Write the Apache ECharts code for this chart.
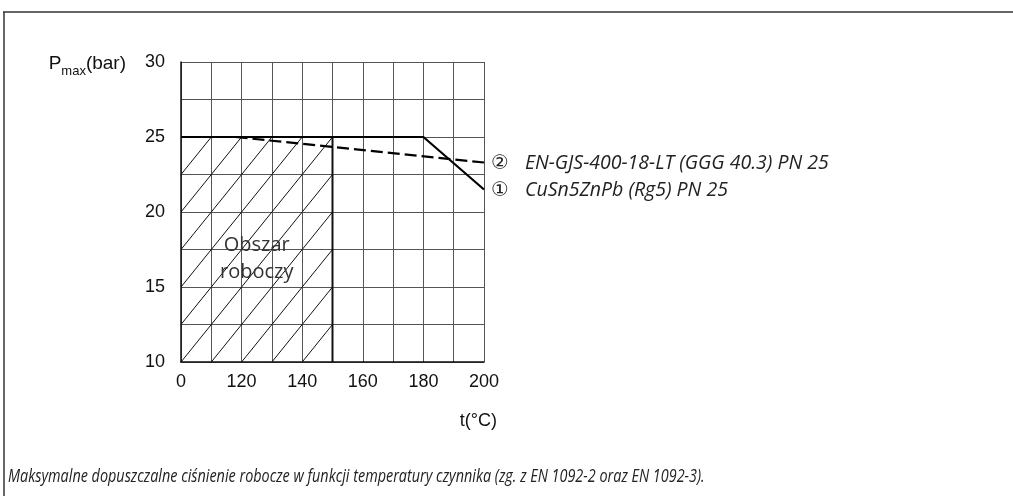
<!DOCTYPE html>
<html>
<head>
<meta charset="utf-8">
<script src="https://cdn.jsdelivr.net/npm/echarts@6/dist/echarts.min.js"></script>
<style>
html, body { margin: 0; padding: 0; background: #fff; }
#chart { width: 1013px; height: 496px; }
</style>
</head>
<body>
<div id="chart"></div>
<script>
// dane wykresu
var xLabelValues = [100, 120, 140, 160, 180, 200];
var xLabelTexts = ['0', '120', '140', '160', '180', '200'];
var yLabelValues = [10, 15, 20, 25, 30];
var rg5Data = [[100, 25], [180, 25], [200, 21.5]];       // ① CuSn5ZnPb
var gggData = [[118, 25], [200, 23.3]];                   // ② EN-GJS-400-18-LT
var workArea = [[100, 150, 10, 25]];                      // obszar roboczy: xmin, xmax, ymin, ymax
var workAreaLabel = 'Obszar\nroboczy';
var rg5Name = 'CuSn5ZnPb (Rg5) PN 25';
var gggName = 'EN-GJS-400-18-LT (GGG 40.3) PN 25';
var caption = 'Maksymalne dopuszczalne ciśnienie robocze w funkcji temperatury czynnika (zg. z EN 1092-2 oraz EN 1092-3).';

var chart = echarts.init(document.getElementById('chart'), null, { renderer: 'canvas' });

var gridLineColor = '#555';
var axisFont = 'Liberation Sans, Arial, sans-serif';

function endLabel(mark, name) {
	return {
		show : true,
		distance : 7,
		offset : [ 0, 1 ],
		formatter : '{c|' + mark + '}{t|' + name + '}',
		rich : {
			c : { fontSize : 20, fontFamily : 'DejaVu Sans', color : '#222' },
			t : { fontSize : 19.5, fontFamily : '"Open Sans", sans-serif', fontStyle : 'italic', color : '#222', padding : [ 0, 0, 0, 16 ] }
		}
	};
}

chart.setOption({
	backgroundColor : '#fff',
	animation : false,
	grid : {
		left : 181,
		right : 1013 - 484,
		top : 62,
		bottom : 496 - 362,
		containLabel : false
	},
	xAxis : {
		type : 'value',
		min : 100,
		max : 200,
		interval : 10,
		name : 't(°C)',
		nameLocation : 'end',
		nameGap : 13,
		nameTextStyle : {
			color : '#111',
			fontSize : 18,
			fontFamily : axisFont,
			align : 'right',
			verticalAlign : 'top',
			padding : [ 50, 0, 0, 0 ]
		},
		axisLine : { lineStyle : { color : '#111', width : 1.5 } },
		axisTick : { show : false },
		splitLine : { show : true, lineStyle : { color : gridLineColor, width : 1 } },
		axisLabel : {
			color : '#111',
			fontSize : 18,
			fontFamily : axisFont,
			margin : 11,
			formatter : function(v) {
				var i = xLabelValues.indexOf(v);
				return i < 0 ? '' : xLabelTexts[i];
			}
		}
	},
	yAxis : {
		type : 'value',
		min : 10,
		max : 30,
		interval : 2.5,
		name : '{p|P}{s|max}{p|(bar)}',
		nameLocation : 'end',
		nameGap : -13,
		nameTextStyle : {
			align : 'right',
			padding : [ 0, 55, 0, 0 ],
			rich : {
				p : { fontSize : 19, fontFamily : axisFont, color : '#111', lineHeight : 22 },
				s : { fontSize : 13, fontFamily : axisFont, color : '#111', lineHeight : 13, verticalAlign : 'bottom', padding : [ 0, 0, -3, 0 ] }
			}
		},
		axisLine : { show : true, lineStyle : { color : '#111', width : 1.5 } },
		axisTick : { show : false },
		splitLine : { show : true, lineStyle : { color : gridLineColor, width : 1 } },
		axisLabel : {
			color : '#111',
			fontSize : 18,
			fontFamily : axisFont,
			margin : 16,
			formatter : function(v) {
				return yLabelValues.indexOf(v) < 0 ? '' : String(v);
			}
		}
	},
	series : [ {
		// obszar roboczy - kreskowanie po przekątnych komórek siatki
		type : 'custom',
		data : workArea,
		silent : true,
		z : 1,
		renderItem : function(params, api) {
			var x0 = api.value(0), x1 = api.value(1), y0 = api.value(2), y1 = api.value(3);
			var stepX = 10, stepY = 2.5;
			var nCols = Math.round((x1 - x0) / stepX), nRows = Math.round((y1 - y0) / stepY);
			var children = [];
			for ( var k = -nRows + 1; k < nCols; k++) {
				var tStart = Math.max(0, -k), tEnd = Math.min(nRows, nCols - k);
				if (tEnd <= tStart) continue;
				var p0 = api.coord([ x0 + stepX * (k + tStart), y0 + stepY * tStart ]);
				var p1 = api.coord([ x0 + stepX * (k + tEnd), y0 + stepY * tEnd ]);
				children.push({
					type : 'line',
					shape : { x1 : p0[0], y1 : p0[1], x2 : p1[0], y2 : p1[1] },
					style : { stroke : '#111', lineWidth : 1 }
				});
			}
			var br = api.coord([ x1, y0 ]), tr = api.coord([ x1, y1 ]);
			children.push({
				type : 'line',
				shape : { x1 : br[0], y1 : br[1], x2 : tr[0], y2 : tr[1] },
				style : { stroke : '#111', lineWidth : 2 }
			});
			var c = api.coord([ (x0 + x1) / 2, (y0 + y1) / 2 ]);
			children.push({
				type : 'text',
				x : c[0],
				y : c[1] + 9,
				style : {
					text : workAreaLabel,
					fill : '#333',
					font : '20px "Open Sans", sans-serif',
					lineHeight : 27,
					align : 'center',
					verticalAlign : 'middle'
				}
			});
			return { type : 'group', children : children };
		}
	}, {
		name : gggName,
		type : 'line',
		data : gggData,
		symbol : 'none',
		z : 3,
		lineStyle : { color : '#000', width : 2.2, type : [ 12, 5 ] },
		endLabel : endLabel('②', gggName)
	}, {
		name : rg5Name,
		type : 'line',
		data : rg5Data,
		symbol : 'none',
		z : 4,
		lineStyle : { color : '#000', width : 2.2 },
		endLabel : endLabel('①', rg5Name)
	} ],
	graphic : [ {
		// ramka
		type : 'line',
		shape : { x1 : 3, y1 : 12, x2 : 1013, y2 : 12 },
		style : { stroke : '#666', lineWidth : 2 }
	}, {
		type : 'line',
		shape : { x1 : 4, y1 : 12, x2 : 4, y2 : 496 },
		style : { stroke : '#333', lineWidth : 1.5 }
	}, {
		type : 'text',
		x : 8,
		y : 477,
		scaleX : 0.8,
		style : {
			text : caption,
			fill : '#222',
			font : 'italic 18px "Open Sans", sans-serif',
			verticalAlign : 'middle'
		}
	} ]
});
</script>
</body>
</html>
